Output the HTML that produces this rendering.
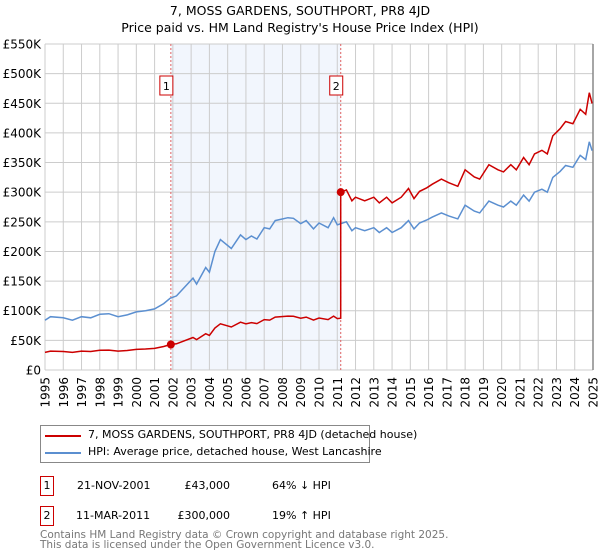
<!DOCTYPE html>
<html><head><meta charset="utf-8"><style>
body{margin:0;background:#fff;font-family:"DejaVu Sans","Liberation Sans",sans-serif;}
#wrap{position:relative;width:600px;height:560px;overflow:hidden;}
.t{position:absolute;white-space:nowrap;font-size:11px;color:#000;}
.box{position:absolute;border:1px solid #c00;width:12px;height:18px;font-size:11px;text-align:center;line-height:18px;}
</style></head><body>
<div id="wrap">
<svg id="chart" width="600" height="425" style="position:absolute;left:0;top:0"></svg>
<div style="position:absolute;left:40px;top:425px;width:328px;height:36px;border:1px solid #888;">
 <div style="position:absolute;left:4px;top:9px;width:36px;height:2px;background:#c00"></div>
 <div class="t" style="left:47px;top:2px">7, MOSS GARDENS, SOUTHPORT, PR8 4JD (detached house)</div>
 <div style="position:absolute;left:4px;top:26px;width:36px;height:2px;background:#5b8fd0"></div>
 <div class="t" style="left:47px;top:19px">HPI: Average price, detached house, West Lancashire</div>
</div>
<div class="box" style="left:40px;top:476px">1</div>
<div class="t" style="left:77px;top:479px">21-NOV-2001</div>
<div class="t" style="left:170px;top:479px;width:60px;text-align:right">£43,000</div>
<div class="t" style="left:272px;top:479px">64% ↓ HPI</div>
<div class="box" style="left:40px;top:506px">2</div>
<div class="t" style="left:76px;top:509px">11-MAR-2011</div>
<div class="t" style="left:160px;top:509px;width:70px;text-align:right">£300,000</div>
<div class="t" style="left:272px;top:509px">19% ↑ HPI</div>
<div class="t" style="left:40px;top:530px;color:#777;line-height:10px;font-size:10.5px">Contains HM Land Registry data © Crown copyright and database right 2025.<br>This data is licensed under the Open Government Licence v3.0.</div>
</div>
<script>
const hpiYears=[1995,1995.3,1996,1996.5,1997,1997.5,1998,1998.5,1999,1999.5,2000,2000.5,2001,2001.5,2001.85,2002.2,2003.1,2003.3,2003.8,2004.0,2004.3,2004.6,2005.2,2005.7,2006,2006.3,2006.6,2007,2007.3,2007.6,2008.3,2008.6,2009,2009.3,2009.7,2010,2010.5,2010.8,2011,2011.5,2011.8,2012,2012.5,2013,2013.3,2013.7,2014,2014.5,2014.9,2015.2,2015.5,2015.9,2016.2,2016.7,2017.1,2017.6,2018,2018.5,2018.8,2019.3,2019.8,2020.1,2020.5,2020.8,2021.2,2021.5,2021.8,2022.2,2022.5,2022.8,2023.2,2023.5,2023.9,2024.3,2024.6,2024.8,2024.95];
const hpiValues=[84,90,88,84,90,88,94,95,90,93,98,100,103,112,121,125,155,145,173,165,200,220,205,228,220,226,221,240,238,252,257,256,247,252,238,248,240,257,245,250,235,240,235,240,232,240,232,240,252,238,248,253,258,265,260,255,278,268,265,285,278,275,285,278,295,285,300,305,300,325,335,345,342,362,355,385,370];
const saleDates=[2001.89,2011.19];
const salePrices=[43,300];
const yTicks=[0,50,100,150,200,250,300,350,400,450,500,550];
const yTickLabels=["£0","£50K","£100K","£150K","£200K","£250K","£300K","£350K","£400K","£450K","£500K","£550K"];
const xYears=[1995,1996,1997,1998,1999,2000,2001,2002,2003,2004,2005,2006,2007,2008,2009,2010,2011,2012,2013,2014,2015,2016,2017,2018,2019,2020,2021,2022,2023,2024,2025];

const NS="http://www.w3.org/2000/svg";
const svg=document.getElementById('chart');
const X0=45,X1=593,Y0=370,Y1=44;
const sx=y=>X0+(y-1995)/30*(X1-X0);
const sy=v=>Y0-v/550*(Y0-Y1);
function mk(tag,attrs,parent){const e=document.createElementNS(NS,tag);for(const k in attrs)e.setAttribute(k,attrs[k]);(parent||svg).appendChild(e);return e;}
function hpiAt(t){for(let i=0;i<hpiYears.length-1;i++){if(t<=hpiYears[i+1]){const f=(t-hpiYears[i])/(hpiYears[i+1]-hpiYears[i]);return hpiValues[i]+f*(hpiValues[i+1]-hpiValues[i]);}}return hpiValues[hpiValues.length-1];}

let t=mk('text',{x:300,y:15,'text-anchor':'middle','font-size':12.5,'font-family':'DejaVu Sans, sans-serif'});t.textContent='7, MOSS GARDENS, SOUTHPORT, PR8 4JD';

t=mk('text',{x:300,y:32,'text-anchor':'middle','font-size':12.5,'font-family':'DejaVu Sans, sans-serif'});t.textContent="Price paid vs. HM Land Registry's House Price Index (HPI)";


let sh=mk('rect',{x:sx(saleDates[0]),y:Y1,width:sx(saleDates[1])-sx(saleDates[0]),height:Y0-Y1,fill:'#f2f6fd'});


yTicks.forEach((v,i)=>{
  const l=mk('line',{x1:X0,x2:X1,y1:sy(v),y2:sy(v),stroke:'#ccc','stroke-width':1});
  
  const tx=mk('text',{x:41,y:sy(v)+4.5,'text-anchor':'end','font-size':12,'font-family':'DejaVu Sans, sans-serif'});tx.textContent=yTickLabels[i];
  
});
xYears.forEach(y=>{
  const l=mk('line',{x1:sx(y),x2:sx(y),y1:Y1,y2:Y0,stroke:'#ccc','stroke-width':1});
  
  const tx=mk('text',{x:0,y:0,'text-anchor':'end','font-size':12,'font-family':'DejaVu Sans, sans-serif',transform:`translate(${sx(y)+4.5},377) rotate(-90)`});tx.textContent=y;
  
});
let eb=mk('line',{x1:X1,x2:X1,y1:Y1,y2:Y0,stroke:'#888','stroke-width':1.5});


saleDates.forEach((d,i)=>{
  const l=mk('line',{x1:sx(d),x2:sx(d),y1:Y1,y2:Y0,stroke:'#e06060','stroke-width':1,'stroke-dasharray':'2,2'});
  
  const r=mk('rect',{x:sx(d)-11,y:76,width:13,height:19,fill:'#fff',stroke:'#c00','stroke-width':1});
  
  const tx=mk('text',{x:sx(d)-4.5,y:90,'text-anchor':'middle','font-size':11,'font-family':'DejaVu Sans, sans-serif'});tx.textContent=String(i+1);
  
});

let pts=hpiYears.map((y,i)=>sx(y).toFixed(1)+','+sy(hpiValues[i]).toFixed(1)).join(' ');
let hl=mk('polyline',{points:pts,fill:'none',stroke:'#5b8fd0','stroke-width':1.5});


const rp=[];
const r1=salePrices[0]/hpiAt(saleDates[0]), r2=salePrices[1]/hpiAt(saleDates[1]);
hpiYears.forEach((y,i)=>{ if(y<saleDates[1]) rp.push([y,hpiValues[i]*r1]); });
rp.push([saleDates[1],hpiAt(saleDates[1])*r1]);
rp.push([saleDates[1],salePrices[1]]);
hpiYears.forEach((y,i)=>{ if(y>saleDates[1]) rp.push([y,hpiValues[i]*r2]); });
let pl=mk('polyline',{points:rp.map(p=>sx(p[0]).toFixed(1)+','+sy(p[1]).toFixed(1)).join(' '),fill:'none',stroke:'#c00','stroke-width':1.5});

saleDates.forEach((d,i)=>{
  const c=mk('circle',{cx:sx(d),cy:sy(salePrices[i]),r:4,fill:'#c00'});
  
});
</script>
</body></html>
